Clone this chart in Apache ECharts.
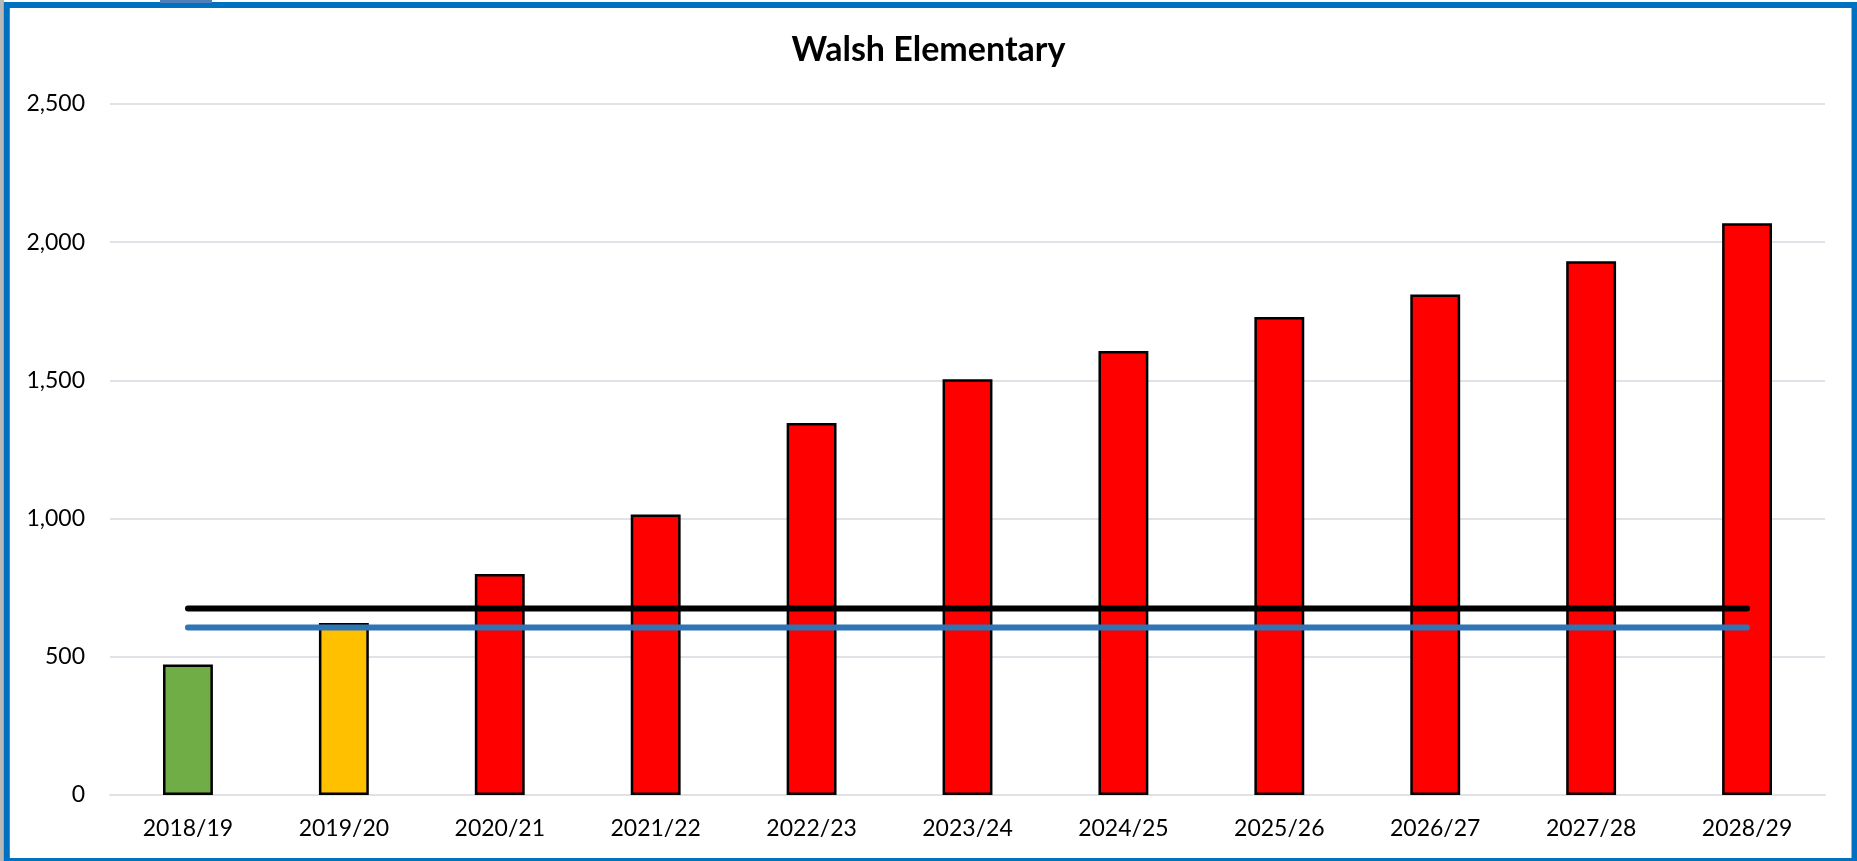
<!DOCTYPE html>
<html>
<head>
<meta charset="utf-8">
<script src="https://cdn.jsdelivr.net/npm/echarts@6/dist/echarts.min.js"></script>
<style>
html,body{margin:0;padding:0;background:#fff;}
#chart{width:1857px;height:861px;}
</style>
</head>
<body>
<div id="chart"></div>
<script>
const categories = ['2018/19','2019/20','2020/21','2021/22','2022/23','2023/24','2024/25','2025/26','2026/27','2027/28','2028/29'];
const enrollment = [472, 622, 800, 1015, 1346, 1504, 1606, 1729, 1811, 1931, 2069];
const barColors = ['#70AD47','#FFC000','#FF0000','#FF0000','#FF0000','#FF0000','#FF0000','#FF0000','#FF0000','#FF0000','#FF0000'];
const capacityBlack = [675, 675, 675, 675, 675, 675, 675, 675, 675, 675, 675];
const capacityBlue = [606, 606, 606, 606, 606, 606, 606, 606, 606, 606, 606];
const yTicks = [0, 500, 1000, 1500, 2000, 2500];
const titleText = 'Walsh Elementary';

const chart = echarts.init(document.getElementById('chart'), null, {renderer:'canvas'});
const FONT = 'Lato';
chart.setOption({
  animation: false,
  backgroundColor: '#ffffff',
  title: {
    text: titleText,
    left: 'center',
    top: 28,
    textStyle: {fontFamily: FONT, fontWeight: 'bold', fontSize: 34, color: '#000'}
  },
  grid: {left: 110, right: 32, top: 104, bottom: 66, containLabel: false},
  xAxis: {
    type: 'category',
    data: categories,
    axisTick: {show: false},
    axisLine: {show: true, lineStyle: {color: '#dfe2e7', width: 2}},
    axisLabel: {fontFamily: FONT, fontSize: 23, color: '#000', margin: 22}
  },
  yAxis: {
    type: 'value',
    min: yTicks[0],
    max: yTicks[yTicks.length - 1],
    interval: 500,
    axisLine: {show: false},
    axisTick: {show: false},
    splitLine: {lineStyle: {color: '#dfe2e7', width: 2}},
    axisLabel: {
      fontFamily: FONT, fontSize: 23, color: '#000', margin: 25,
      formatter: v => v.toLocaleString('en-US')
    }
  },
  series: [
    {
      type: 'bar',
      data: enrollment.map((v, i) => ({value: v, itemStyle: {color: barColors[i]}})),
      barWidth: '32%',
      itemStyle: {borderColor: '#000', borderWidth: 2.5},
      z: 2
    },
    {
      type: 'line',
      data: capacityBlack,
      symbol: 'none',
      lineStyle: {color: '#000000', width: 6, cap: 'round'},
      z: 4
    },
    {
      type: 'line',
      data: capacityBlue,
      symbol: 'none',
      lineStyle: {color: '#2E75B6', width: 6, cap: 'round'},
      z: 4
    }
  ],
  graphic: [
    {type: 'rect', shape: {x: 0, y: 0, width: 4, height: 861}, style: {fill: '#b8b8b8'}, z: 100},
    {type: 'rect', shape: {x: 6.8, y: 5, width: 1847.7, height: 856}, style: {fill: 'none', stroke: '#0070C0', lineWidth: 6}, z: 100},
    {type: 'rect', shape: {x: 160, y: 0, width: 52, height: 3}, style: {fill: '#4f7fb8'}, z: 101}
  ]
});
</script>
</body>
</html>
